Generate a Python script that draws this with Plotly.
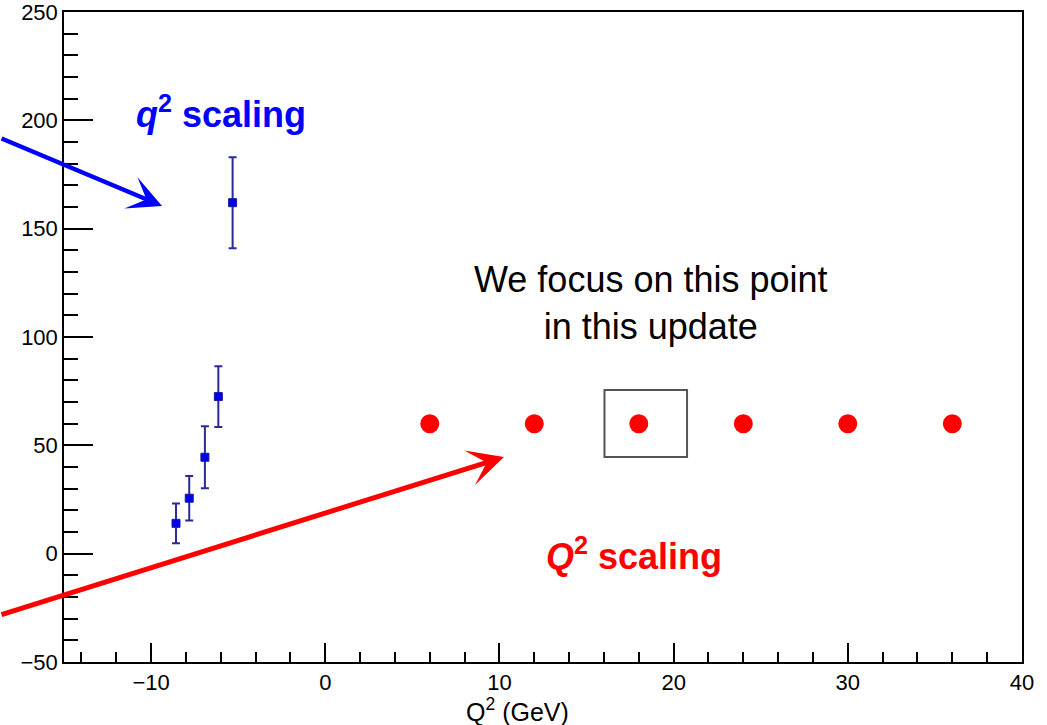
import plotly.graph_objects as go

# ---- data ----
q2_low_x = [-8.57, -7.81, -6.91, -6.14, -5.32]
q2_low_y = [14.0, 25.6, 44.5, 72.5, 162.0]
q2_low_err = [9.2, 10.3, 14.3, 14.0, 21.0]

q2_high_x = [6, 12, 18, 24, 30, 36]
q2_high_y = [60, 60, 60, 60, 60, 60]

x_range = [-15, 40]
y_range = [-50, 250]

FONT = "Liberation Sans, Arial, Helvetica, sans-serif"

fig = go.Figure()

fig.add_trace(go.Scatter(
    x=q2_high_x, y=q2_high_y, mode="markers",
    marker=dict(symbol="circle", size=19, color="#ff0000"),
    showlegend=False,
))

fig.add_trace(go.Scatter(
    x=q2_low_x, y=q2_low_y, mode="markers",
    marker=dict(symbol="square", size=8, color="#0000ee",
                line=dict(color="#1a1a99", width=1)),
    error_y=dict(type="data", array=q2_low_err, visible=True,
                 color="#2a2a9a", thickness=2, width=4),
    showlegend=False,
))

# box around the focused point
fig.add_shape(type="rect", xref="x", yref="y",
              x0=16.03, x1=20.77, y0=44.6, y1=75.5,
              line=dict(color="#555555", width=2))

# arrows
fig.add_annotation(x=-9.37, y=160.5, xref="x", yref="y",
                   ax=-162, ay=-68, text="", showarrow=True,
                   arrowhead=3, arrowsize=1.25, arrowwidth=4.5,
                   arrowcolor="#0000ff", standoff=0)
fig.add_annotation(x=10.26, y=44.6, xref="x", yref="y",
                   ax=-504, ay=158, text="", showarrow=True,
                   arrowhead=3, arrowsize=1.2, arrowwidth=5,
                   arrowcolor="#ff0000", standoff=0)

# texts
fig.add_annotation(x=-5.96, y=204, xref="x", yref="y",
                   text="<b><i>q</i><sup>2</sup> scaling</b>", showarrow=False,
                   font=dict(family=FONT, size=36, color="#0000ff"))
fig.add_annotation(x=17.72, y=0, xref="x", yref="y",
                   text="<b><i>Q</i><sup>2</sup> scaling</b>", showarrow=False,
                   font=dict(family=FONT, size=36, color="#ff0000"))
fig.add_annotation(x=18.7, y=115.5, xref="x", yref="y",
                   text="We focus on this point<br>in this update", showarrow=False,
                   font=dict(family=FONT, size=36, color="black"))

# x axis title
fig.add_annotation(x=0.473, y=-0.1, xref="paper", yref="paper",
                   xanchor="center", yanchor="bottom", borderpad=0,
                   text="Q<sup>2</sup> (GeV)", showarrow=False,
                   font=dict(family=FONT, size=25, color="black"))

axis_common = dict(
    showline=True, linecolor="black", linewidth=1.5, mirror=True,
    ticks="inside", tickcolor="black", tickwidth=1.5,
    showgrid=False, zeroline=False, automargin=False,
    ticklabeloverflow="allow",
    tickfont=dict(family=FONT, size=22, color="black"),
)

fig.update_xaxes(range=x_range, tick0=0, dtick=10, ticklen=19,
                 minor=dict(dtick=2, tick0=0, ticklen=10, ticks="inside",
                            tickcolor="black", tickwidth=1.5, showgrid=False),
                 **axis_common)
fig.update_yaxes(range=y_range, tick0=0, dtick=50, ticklen=29,
                 minor=dict(dtick=10, tick0=0, ticklen=14, ticks="inside",
                            tickcolor="black", tickwidth=1.5, showgrid=False),
                 **axis_common)

fig.update_layout(
    width=1047, height=725,
    margin=dict(l=64, r=25, t=12, b=63),
    paper_bgcolor="white", plot_bgcolor="white",
    font=dict(family=FONT),
)

fig.write_html("out.html")
